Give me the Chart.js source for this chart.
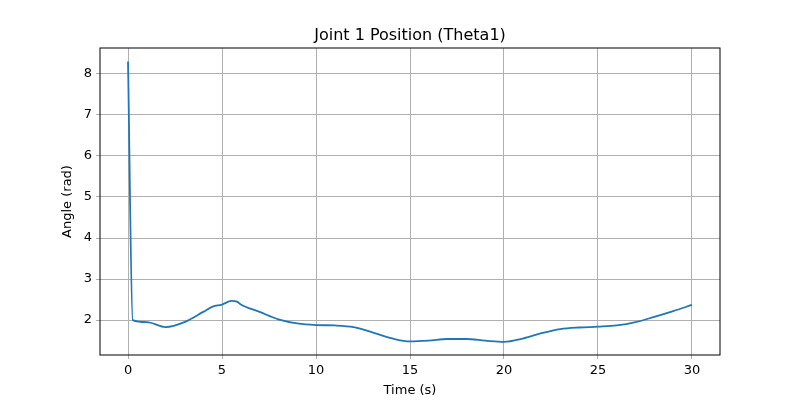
<!DOCTYPE html>
<html><head><script src="https://cdn.jsdelivr.net/npm/chart.js@4"></script>
<style>body{margin:0;background:#fff}</style></head>
<body><canvas id="c" width="800" height="400"></canvas>
<script>
const times=[0,0.25,1,2,3,4,4.5,5,5.5,5.8,6,7,8,9,10,11,12,13,14,15,16,17,18,19,20,21,22,23,24,25,26,27,28,29,30];
const theta=[8.3,2.0,1.95,1.83,1.95,2.2,2.33,2.38,2.47,2.45,2.38,2.2,2.02,1.92,1.88,1.87,1.83,1.7,1.56,1.48,1.5,1.54,1.54,1.5,1.47,1.55,1.68,1.78,1.82,1.84,1.87,1.95,2.08,2.22,2.37];
const xTicks=[0,5,10,15,20,25,30];
const yTicks=[2,3,4,5,6,7,8];
const font={family:'DejaVu Sans',size:13};
const frame={id:'frame',afterDraw(ch){const a=ch.chartArea,c=ch.ctx;c.save();c.strokeStyle='#000';c.lineWidth=1;c.strokeRect(a.left,a.top,a.right-a.left,a.bottom-a.top);
c.fillStyle='#000';c.font='16px DejaVu Sans';c.textAlign='center';c.fillText('Joint 1 Position (Theta1)',(a.left+a.right)/2,40);c.restore();}};
new Chart(document.getElementById('c'),{type:'line',
data:{datasets:[{data:times.map((t,i)=>({x:t,y:theta[i]})),borderColor:'#1f77b4',borderWidth:1.8,pointRadius:0,cubicInterpolationMode:'monotone',fill:false}]},
options:{responsive:false,animation:false,layout:{padding:{top:48,right:80,left:58,bottom:0}},
plugins:{legend:{display:false},tooltip:{enabled:false}},
scales:{x:{type:'linear',min:-1.49,max:31.49,afterBuildTicks:s=>{s.ticks=xTicks.map(v=>({value:v}))},
afterFit:s=>{s.height=45},
grid:{color:'#b0b0b0',drawTicks:true,tickLength:4},border:{display:false},
ticks:{color:'#000',font,maxRotation:0,padding:4},title:{display:true,text:'Time (s)',color:'#000',font,padding:2}},
y:{min:1.15,max:8.63,afterBuildTicks:s=>{s.ticks=yTicks.map(v=>({value:v}))},
afterFit:s=>{s.width=42},
grid:{color:'#b0b0b0',tickLength:4},border:{display:false},
ticks:{color:'#000',font,padding:4},title:{display:true,text:'Angle (rad)',color:'#000',font,padding:2}}}},
plugins:[frame]});
</script></body></html>
